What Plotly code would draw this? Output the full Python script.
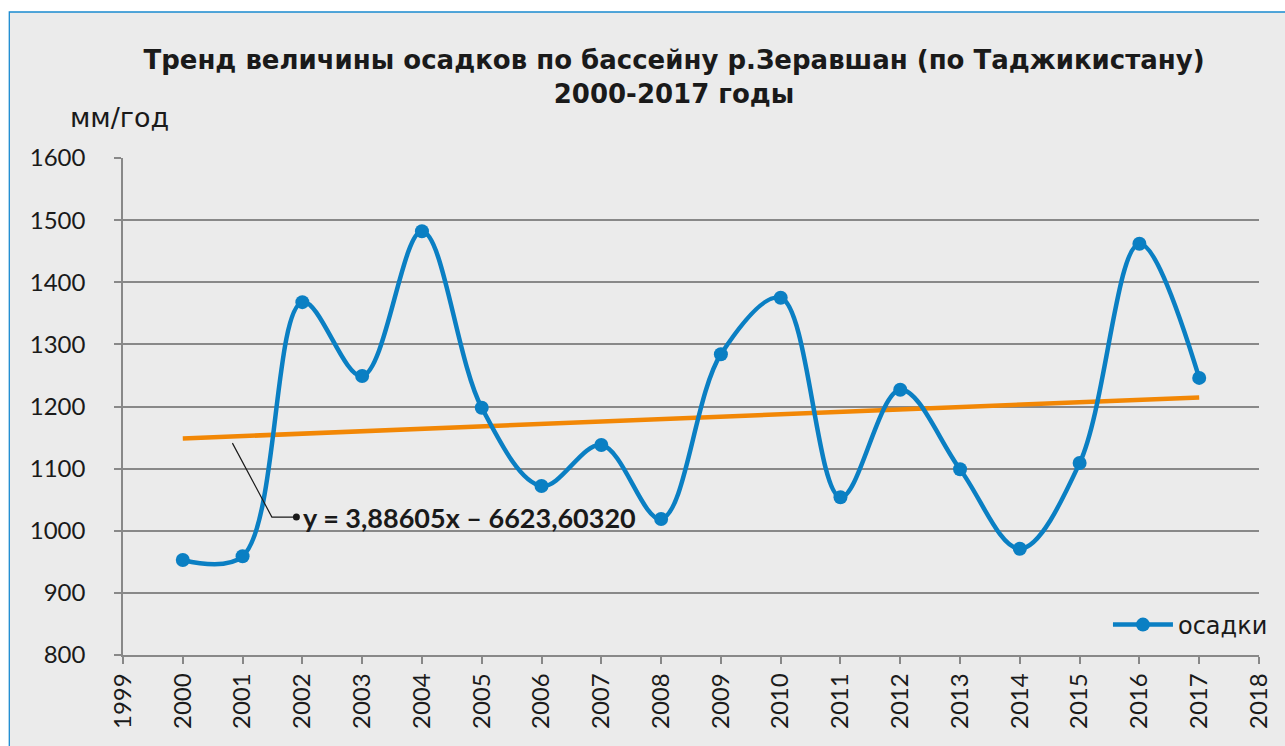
import plotly.graph_objects as go

years = list(range(2000, 2018))
precip = [953, 959, 1368, 1249, 1482, 1198, 1072, 1138, 1019, 1284,
          1375, 1054, 1227, 1099, 971, 1109, 1462, 1246]
trend_slope = 3.88605
trend_intercept = -6623.60320
trend_label = "y = 3,88605x – 6623,60320"
series_name = "осадки"
y_unit = "мм/год"
title_text = "Тренд величины осадков по бассейну р.Зеравшан (по Таджикистану)<br>2000-2017 годы"
x_ticks = list(range(1999, 2019))
y_ticks = list(range(800, 1601, 100))

BLUE = "#0a7fc3"
ORANGE = "#f28705"
FONT = "Lato"
WIDE = "DejaVu Sans"
TXT = "#1a1a1a"

trend_x = [years[0], years[-1]]
trend_y = [trend_slope * x + trend_intercept for x in trend_x]

fig = go.Figure()

fig.add_trace(go.Scatter(
    x=trend_x, y=trend_y, mode="lines",
    line=dict(color=ORANGE, width=4.5), showlegend=False, hoverinfo="skip"))

fig.add_trace(go.Scatter(
    x=years, y=precip, mode="lines+markers", name=series_name,
    line=dict(color=BLUE, width=4.5, shape="spline", smoothing=1.0),
    marker=dict(color=BLUE, size=14)))

# leader line for trend-equation label (elbow)
fig.add_shape(type="path", xref="x", yref="y",
              path="M 2000.83 1141 L 2001.49 1022 L 2001.90 1022",
              line=dict(color=TXT, width=1.2))
fig.add_trace(go.Scatter(x=[2001.90], y=[1022], mode="markers",
                         marker=dict(color=TXT, size=7),
                         showlegend=False, hoverinfo="skip"))
fig.add_annotation(x=2001.98, y=1022, xref="x", yref="y", text=trend_label,
                   showarrow=False, xanchor="left", yanchor="middle",
                   font=dict(family=FONT, size=27, color=TXT, weight="bold"))

# background panel with blue border (top/left)
W, H = 1285, 746
L, R, T, B = 123, 23, 158, 91
pw, ph = W - L - R, H - T - B
fig.add_shape(type="rect", xref="paper", yref="paper", layer="below",
              x0=(9 - L) / pw, x1=(W + 10 - L) / pw,
              y0=(H - B - (H + 10)) / ph, y1=(H - B - 12) / ph,
              fillcolor="#ebebeb", line=dict(color="#1a8ad0", width=1.3))

fig.add_annotation(x=(119 - L) / pw, y=(H - B - 117) / ph, xref="paper", yref="paper",
                   text=y_unit, showarrow=False, xanchor="center", yanchor="middle",
                   font=dict(family=WIDE, size=27, color=TXT))

fig.update_layout(
    width=W, height=H,
    margin=dict(l=L, r=R, t=T, b=B),
    paper_bgcolor="white", plot_bgcolor="rgba(0,0,0,0)",
    font=dict(family=FONT, color=TXT),
    title=dict(text=title_text, x=674 / W, xanchor="center", xref="container",
               y=1 - 69 / H, yanchor="middle", yref="container",
               font=dict(family=WIDE, size=26, color=TXT, weight="bold")),
    legend=dict(x=(1276 - L) / pw, xanchor="right", y=(H - B - 625) / ph, yanchor="middle",
                bgcolor="rgba(0,0,0,0)", font=dict(family=WIDE, size=24, color=TXT),
                itemwidth=60),
    xaxis=dict(range=[1999, 2018], tickvals=x_ticks, tickangle=-90,
               showgrid=False, zeroline=False, showline=True, linecolor="#888888", linewidth=1.5,
               ticks="outside", ticklen=7, tickcolor="#888888", tickwidth=1.5,
               tickfont=dict(family=FONT, size=24, color=TXT)),
    yaxis=dict(range=[800, 1600], tickvals=y_ticks,
               showgrid=True, gridcolor="#888888", gridwidth=1.5, zeroline=False,
               showline=True, linecolor="#888888", linewidth=1.5,
               ticks="outside", ticklen=7, tickcolor="#888888", tickwidth=1.5,
               ticklabelstandoff=24,
               tickfont=dict(family=FONT, size=24, color=TXT)),
)

fig.write_html("out.html", config={"displayModeBar": False},
               post_script="document.body.style.margin='0';document.body.style.overflow='hidden';")
